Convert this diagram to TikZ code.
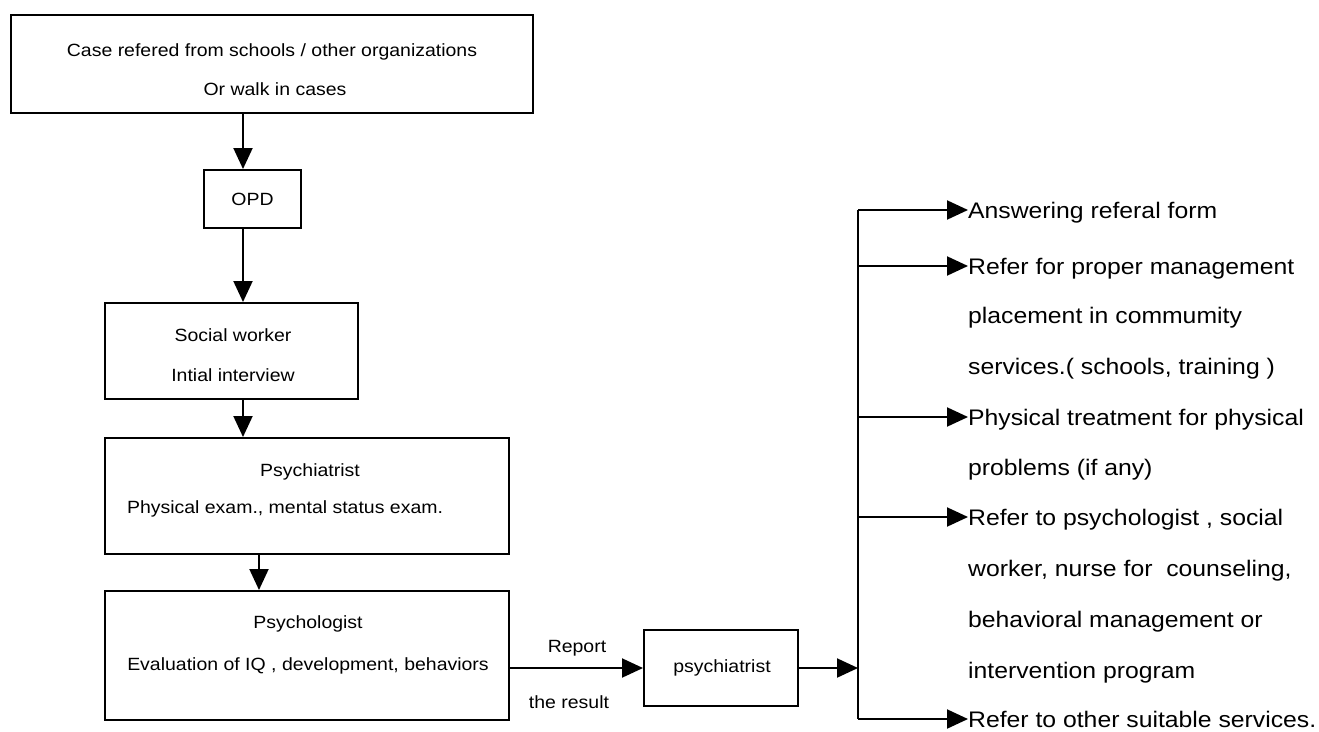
\documentclass[tikz,border=0pt]{standalone}
\usepackage{fontspec}
\setmainfont{Liberation Sans}
\newfontfamily\widesans[FakeStretch=1.1]{Liberation Sans}
\usetikzlibrary{arrows.meta}
\tikzset{
  box/.style={draw, line width=2pt, rectangle, inner sep=0pt},
  arr/.style={line width=2pt, -{Triangle[length=21pt,width=19pt]}},
  bar/.style={line width=2pt},
  lt/.style={inner sep=0pt, anchor=base, font=\widesans\fontsize{17.7}{20}\selectfont},
  rt/.style={inner sep=0pt, anchor=base west, font=\widesans\fontsize{22.5}{26}\selectfont},
}
\begin{document}
\begin{tikzpicture}[x=1pt, y=-1pt]
\useasboundingbox (0,0) rectangle (1319,731);
% boxes
\node[box, minimum width=522pt, minimum height=98pt]  (top)  at (272,64) {};
\node[box, minimum width=97pt,  minimum height=58pt]  (opd)  at (252.5,199) {};
\node[box, minimum width=253pt, minimum height=96pt]  (sw)   at (231.5,351) {};
\node[box, minimum width=404pt, minimum height=116pt] (psy1) at (307,496) {};
\node[box, minimum width=404pt, minimum height=129pt] (psyc) at (307,655.5) {};
\node[box, minimum width=154pt, minimum height=76pt]  (psy2) at (721,668) {};
% box texts
\node[lt] (t1) at (272,56) {Case refered from schools / other organizations};
\node[lt] (t2) at (275,95) {Or walk in cases};
\node[lt] (t3) at (252.5,205) {OPD};
\node[lt] (t4) at (233,341) {Social worker};
\node[lt] (t5) at (233,381) {Intial interview};
\node[lt] (t6) at (310,476) {Psychiatrist};
\node[lt] (t7) at (285,513) {Physical exam., mental status exam.};
\node[lt] (t8) at (308,628) {Psychologist};
\node[lt] (t9) at (308,670) {Evaluation of IQ , development, behaviors};
\node[lt] (t10) at (722,672) {psychiatrist};
\node[lt] (rep) at (577,652) {Report};
\node[lt] (res) at (569,708) {the result};
% vertical chain
\coordinate (c1) at (243,0);
\coordinate (c2) at (259,0);
\draw[arr] (top.south -| c1) -- (opd.north -| c1);
\draw[arr] (opd.south -| c1) -- (sw.north -| c1);
\draw[arr] (sw.south -| c1) -- (psy1.north -| c1);
\draw[arr] (psy1.south -| c2) -- (psyc.north -| c2);
\draw[arr] (psyc.east |- psy2.west) -- (psy2.west);
% right side texts
\node[rt] (r1)  at (968,218) {Answering referal form};
\node[rt] (r2)  at (968,274) {Refer for proper management};
\node[rt] (r3)  at (968,323) {placement in commumity};
\node[rt] (r4)  at (968,374) {services.( schools, training )};
\node[rt] (r5)  at (968,425) {Physical treatment for physical};
\node[rt] (r6)  at (968,475) {problems (if any)};
\node[rt] (r7)  at (968,525) {Refer to psychologist , social};
\node[rt] (r8)  at (968,576) {worker, nurse for\ \ counseling,};
\node[rt] (r9)  at (968,627) {behavioral management or};
\node[rt] (r10) at (968,678) {intervention program};
\node[rt] (r11) at (968,727) {Refer to other suitable services.};
% bus
\coordinate (bus) at (858,0);
\coordinate (b1) at (858,210);
\coordinate (b2) at (858,266);
\coordinate (b5) at (858,417);
\coordinate (b7) at (858,517);
\coordinate (b11) at (858,719);
\draw[bar] (b1) -- (b11);
\draw[arr] (psy2.east) -- (bus |- psy2.east);
\draw[arr] (b1) -- (r1.west |- b1);
\draw[arr] (b2) -- (r2.west |- b2);
\draw[arr] (b5) -- (r5.west |- b5);
\draw[arr] (b7) -- (r7.west |- b7);
\draw[arr] (b11) -- (r11.west |- b11);
\end{tikzpicture}
\end{document}
